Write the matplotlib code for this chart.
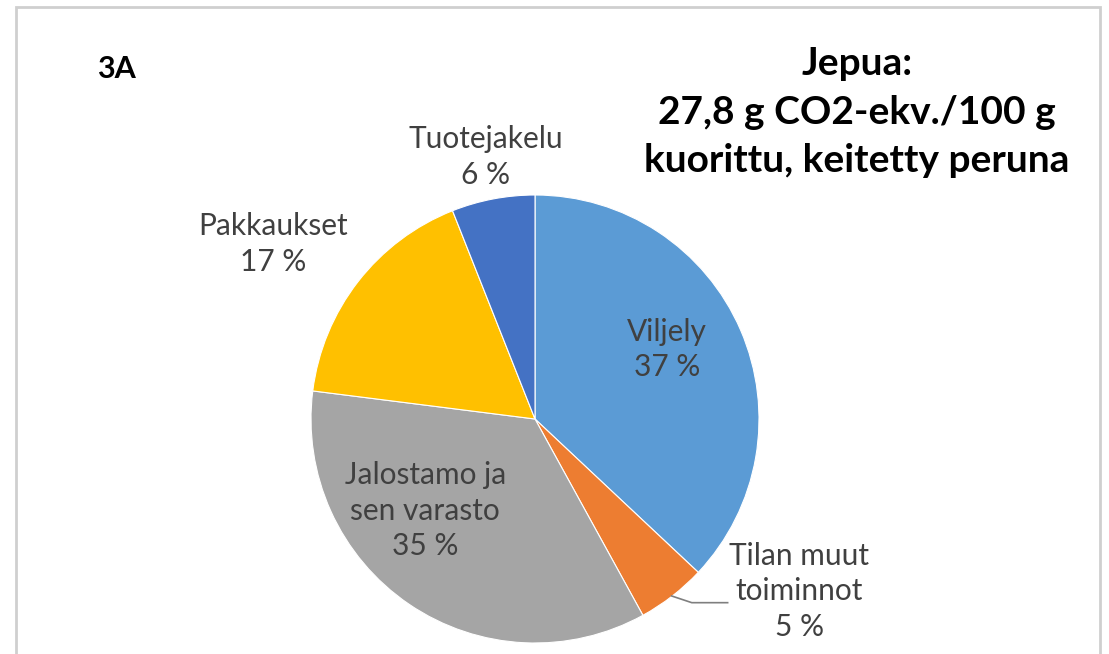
import matplotlib.pyplot as plt
from matplotlib.patches import Rectangle

# data
labels = ['Viljely', 'Tilan muut\ntoiminnot', 'Jalostamo ja\nsen varasto', 'Pakkaukset', 'Tuotejakelu']
values = [37, 5, 35, 17, 6]
colors = ['#5B9BD5', '#ED7D31', '#A5A5A5', '#FFC000', '#4472C4']
title = 'Jepua:\n27,8 g CO2-ekv./100 g\nkuorittu, keitetty peruna'
panel = '3A'

# label spots (pie data units, radius = 1)
label_pos = [(0.59, 0.31), (1.18, -0.77), (-0.49, -0.41), (-1.17, 0.78), (-0.22, 1.17)]

W, H = 1109, 654
fig = plt.figure(figsize=(W / 100, H / 100), dpi=100)
plt.rcParams['font.family'] = ['Lato', 'DejaVu Sans']

cx, cy, r = 535, 419, 224
ax = fig.add_axes([(cx - r) / W, (H - cy - r) / H, 2 * r / W, 2 * r / H])
ax.pie(values, colors=colors, startangle=90, counterclock=False, radius=1,
       wedgeprops=dict(edgecolor='white', linewidth=0.8))
ax.set_xlim(-1, 1)
ax.set_ylim(-1, 1)
ax.set_aspect('equal')
ax.axis('off')

for lab, v, (x, y) in zip(labels, values, label_pos):
    ax.text(x, y, f'{lab}\n{v} %', ha='center', va='center', fontsize=21.5,
            color='#404040', linespacing=1.33, clip_on=False)

# leader line for the small slice
ax.plot([0.61, 0.70, 0.86], [-0.79, -0.82, -0.82], color='#7f7f7f', lw=1.2, clip_on=False)

fig.text(857 / W, 1 - 112 / H, title, ha='center', va='center', fontsize=28,
         fontweight='bold', color='black', linespacing=1.45)
fig.text(97 / W, 1 - 69 / H, panel, ha='left', va='center', fontsize=22,
         fontweight='bold', color='black')

# outer frame
fig.patches.append(Rectangle((16 / W, -0.1), (1100 - 16) / W, 1.1 - 7 / H,
                             transform=fig.transFigure, fill=False,
                             edgecolor='#cfcfcf', linewidth=2))

fig.savefig('out.png', dpi=100)
